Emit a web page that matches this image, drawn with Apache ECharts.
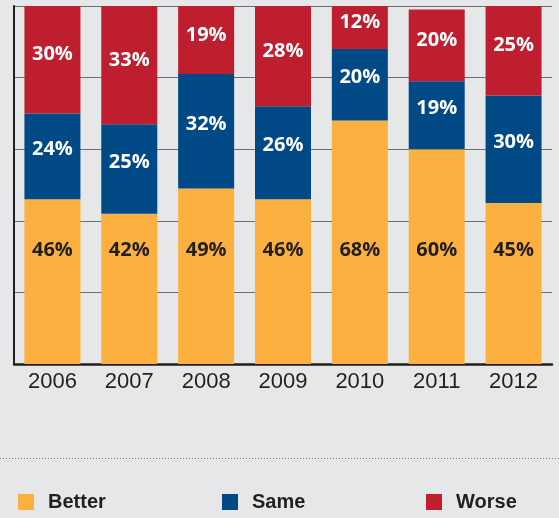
<!DOCTYPE html>
<html>
<head>
<meta charset="utf-8">
<script src="https://cdn.jsdelivr.net/npm/echarts@6/dist/echarts.min.js"></script>
<style>
  html, body { margin: 0; padding: 0; background: #e6e7e9; }
  #chart { width: 559px; height: 518px; }
</style>
</head>
<body>
<div id="chart"></div>
<script>
// Survey shares per year (percent)
const years  = ['2006', '2007', '2008', '2009', '2010', '2011', '2012'];
const better = [46, 42, 49, 46, 68, 60, 45];
const same   = [24, 25, 32, 26, 20, 19, 30];
const worse  = [30, 33, 19, 28, 12, 20, 25];

const INK = '#231f20';
const labelFont = { fontFamily: '"Open Sans", sans-serif', fontWeight: 'bold', fontSize: 20 };

function barSeries(name, values, color, label) {
  return {
    name: name,
    type: 'bar',
    stack: 'share',
    barWidth: 56,
    data: values,
    itemStyle: { color: color },
    label: Object.assign({
      show: true,
      formatter: '{c}%'
    }, labelFont, label)
  };
}

const chart = echarts.init(document.getElementById('chart'), null, { renderer: 'canvas' });

const legendBase = {
  top: 487,
  icon: 'rect',
  itemWidth: 16,
  itemHeight: 16,
  textStyle: {
    color: INK,
    fontFamily: '"Liberation Sans", Arial, sans-serif',
    fontWeight: 'bold',
    fontSize: 20,
    padding: [0, 0, 0, 9]
  }
};

chart.setOption({
  backgroundColor: '#e6e7e9',
  animation: false,
  grid: { left: 14, right: 7, top: 6, bottom: 154 },
  xAxis: {
    type: 'category',
    data: years,
    axisLine: { show: true, lineStyle: { color: INK, width: 2.5 } },
    axisTick: { show: false },
    axisLabel: {
      color: INK,
      fontFamily: '"Liberation Sans", Arial, sans-serif',
      fontSize: 22,
      margin: 7
    }
  },
  yAxis: {
    type: 'value',
    min: 0,
    max: 100,
    interval: 20,
    axisLine: { show: true, lineStyle: { color: INK, width: 2 } },
    axisTick: { show: false },
    axisLabel: { show: false },
    splitLine: { show: true, lineStyle: { color: '#6d6e71', width: 1.2 } }
  },
  legend: [
    Object.assign({ left: 13, data: ['Better'] }, legendBase),
    Object.assign({ left: 217, data: ['Same'] }, legendBase),
    Object.assign({ left: 421, data: ['Worse'] }, legendBase)
  ],
  graphic: [{
    type: 'line',
    shape: { x1: 0, y1: 458.5, x2: 559, y2: 458.5 },
    style: { stroke: '#77787b', lineWidth: 1, lineDash: [1, 2] },
    silent: true
  }],
  series: [
    barSeries('Better', better, '#fbb040', { color: INK, position: 'insideBottom', distance: 104 }),
    barSeries('Same', same, '#004987', { color: '#ffffff', position: 'inside', offset: [0, -7] }),
    barSeries('Worse', worse, '#be1e2d', { color: '#ffffff', position: 'inside', offset: [0, -5] })
  ]
});
</script>
</body>
</html>
